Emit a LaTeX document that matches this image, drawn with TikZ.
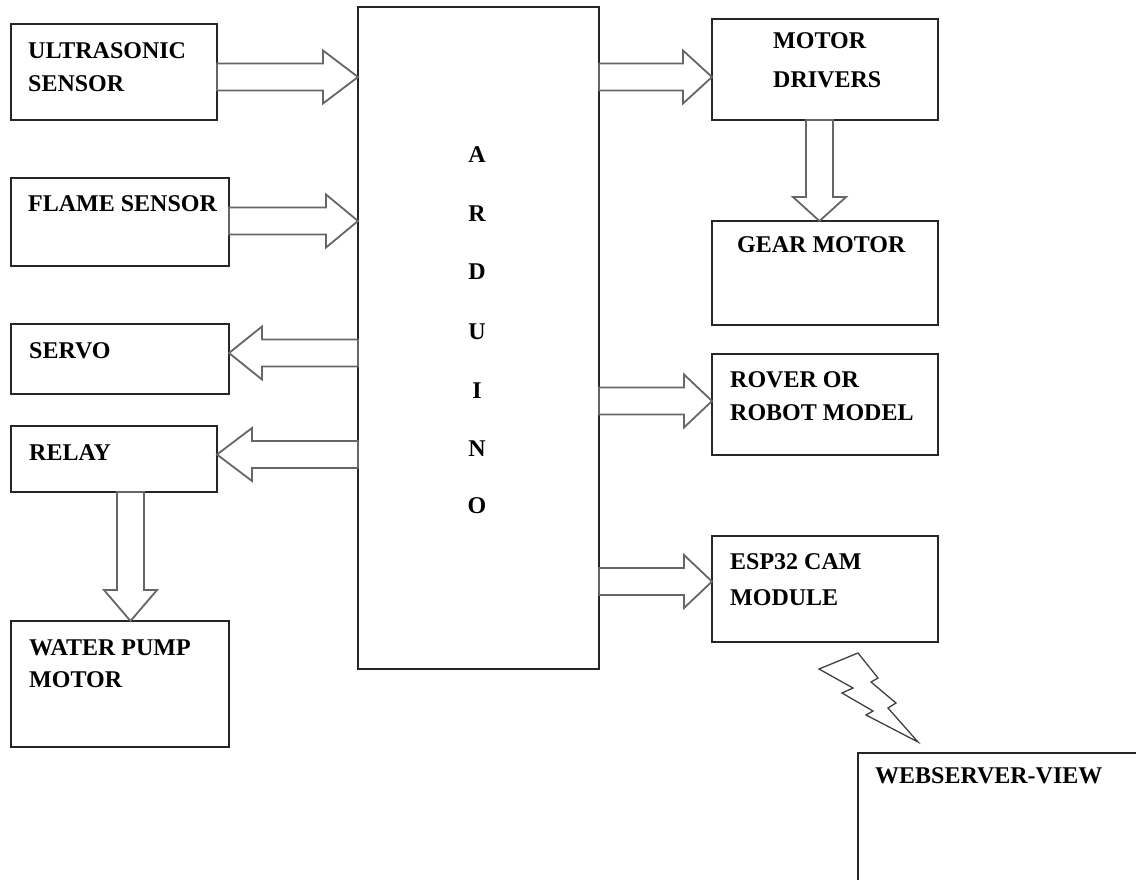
\documentclass[tikz,border=0pt]{standalone}
\usepackage{fontspec}
\setmainfont{Liberation Serif}
\usetikzlibrary{calc}
\newcommand\twolines[3][33pt]{\vtop{\baselineskip=#1\hbox{#2}\hbox{#3}}}
\newcommand\RArrow[4]{%
  \path (#1.east |- 0,#3) coordinate (as) (#2.west |- 0,#3) coordinate (ae);
  \draw[barrow] ($(as)+(0,-13.5)$) -- ($(ae)+(-#4,-13.5)$) -- ($(ae)+(-#4,-26.5)$) -- (ae)
    -- ($(ae)+(-#4,26.5)$) -- ($(ae)+(-#4,13.5)$) -- ($(as)+(0,13.5)$) -- cycle;}
\newcommand\LArrow[4]{%
  \path (#1.west |- 0,#3) coordinate (as) (#2.east |- 0,#3) coordinate (ae);
  \draw[barrow] ($(as)+(0,-13.5)$) -- ($(ae)+(#4,-13.5)$) -- ($(ae)+(#4,-26.5)$) -- (ae)
    -- ($(ae)+(#4,26.5)$) -- ($(ae)+(#4,13.5)$) -- ($(as)+(0,13.5)$) -- cycle;}
\newcommand\DArrow[4]{%
  \path (#1.south -| #3,0) coordinate (as) (#2.north -| #3,0) coordinate (ae);
  \draw[barrow] ($(as)+(-13.5,0)$) -- ($(ae)+(-13.5,-#4)$) -- ($(ae)+(-26.5,-#4)$) -- (ae)
    -- ($(ae)+(26.5,-#4)$) -- ($(ae)+(13.5,-#4)$) -- ($(as)+(13.5,0)$) -- cycle;}
\begin{document}
\begin{tikzpicture}[x=1pt,y=-1pt,
  box/.style={draw=black!85, line width=1.4pt, rectangle, inner sep=0pt, outer sep=0pt, anchor=north west},
  lbl/.style={anchor=base west, inner sep=0pt, font=\fontsize{24}{33}\selectfont\bfseries},
  letter/.style={anchor=base, inner sep=0pt, font=\fontsize{24}{33}\selectfont\bfseries},
  barrow/.style={draw=black!60, line width=1.8pt, line join=miter, fill=white},
  bolt/.style={draw=black!75, line width=1.3pt, line join=miter}]
\useasboundingbox (0,0) rectangle (1136,879);
\clip (0,0) rectangle (1136,879);
\fill[white] (0,0) rectangle (1136,879);
% boxes
\node[box, minimum width=206, minimum height=96] (ultra) at (11,24) {};
\node[box, minimum width=218, minimum height=88] (flame) at (11,178) {};
\node[box, minimum width=218, minimum height=70] (servo) at (11,324) {};
\node[box, minimum width=206, minimum height=66] (relay) at (11,426) {};
\node[box, minimum width=218, minimum height=126] (pump) at (11,621) {};
\node[box, minimum width=241, minimum height=662] (ard) at (358,7) {};
\node[box, minimum width=226, minimum height=101] (motor) at (712,19) {};
\node[box, minimum width=226, minimum height=104] (gear) at (712,221) {};
\node[box, minimum width=226, minimum height=101] (rover) at (712,354) {};
\node[box, minimum width=226, minimum height=106] (esp) at (712,536) {};
\node[box, minimum width=300, minimum height=150] (web) at (858,753) {};
% labels
\node[lbl] (ultraT) at (28,58) {\twolines{ULTRASONIC}{SENSOR}};
\node[lbl] (flameT) at (28,211) {FLAME SENSOR};
\node[lbl] (servoT) at (29,358) {SERVO};
\node[lbl] (relayT) at (29,460) {RELAY};
\node[lbl] (pumpT) at (29,655) {\twolines[32pt]{WATER PUMP}{MOTOR}};
\node[lbl] (motorT) at (773,48) {\twolines[39pt]{MOTOR}{DRIVERS}};
\node[lbl] (gearT) at (737,252) {GEAR MOTOR};
\node[lbl] (roverT) at (730,387) {\twolines{ROVER OR}{ROBOT MODEL}};
\node[lbl] (espT) at (730,569) {\twolines[36pt]{ESP32 CAM}{MODULE}};
\node[lbl] (webT) at (875,783) {WEBSERVER-VIEW};
\node[letter] (a1) at (477,162) {A};
\node[letter] (a2) at (477,221) {R};
\node[letter] (a3) at (477,279) {D};
\node[letter] (a4) at (477,339) {U};
\node[letter] (a5) at (477,398) {I};
\node[letter] (a6) at (477,456) {N};
\node[letter] (a7) at (477,513) {O};
% arrows
\RArrow{ultra}{ard}{77}{35}
\RArrow{flame}{ard}{221}{32}
\LArrow{ard}{servo}{353}{33}
\LArrow{ard}{relay}{454.5}{35}
\DArrow{relay}{pump}{130.5}{31}
\RArrow{ard}{motor}{77}{29}
\DArrow{motor}{gear}{819.5}{24}
\RArrow{ard}{rover}{401}{28}
\RArrow{ard}{esp}{581.5}{28}
% wireless link
\draw[bolt] (819,669) -- (858,653) -- (878,678) -- (871,682) -- (896,703) -- (888,708)
  -- (918,742) -- (866,715) -- (873,711) -- (842,693) -- (853,688) -- cycle;
\end{tikzpicture}
\end{document}
